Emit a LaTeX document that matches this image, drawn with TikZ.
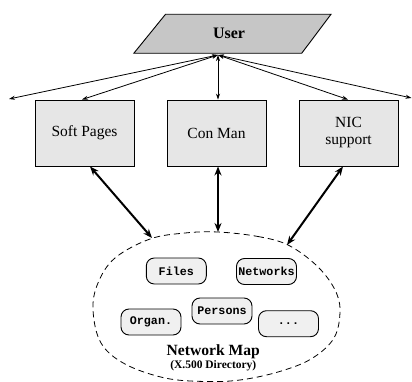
\documentclass[tikz,border=0pt]{standalone}
\usepackage{fontspec}
\setmainfont{Liberation Serif}
\setmonofont{Liberation Mono}
\usetikzlibrary{arrows.meta}
\definecolor{usergray}{HTML}{C6C6C6}
\definecolor{boxgray}{HTML}{E6E6E6}
\definecolor{itemgray}{HTML}{F0F0F0}
\tikzset{
  service/.style={draw, line width=0.9pt, fill=boxgray, minimum width=99pt, minimum height=66pt,
    align=center, font=\fontsize{15.5}{17}\selectfont, inner sep=0pt},
  entry/.style={draw, line width=0.9pt, fill=itemgray, rounded corners=8pt, minimum width=60pt,
    minimum height=26pt, inner sep=0pt, font=\fontsize{11.7}{13}\selectfont\ttfamily\bfseries},
  thinlink/.style={line width=0.8pt, {Stealth[length=6pt,width=4pt]}-{Stealth[length=6pt,width=4pt]}},
  thicklink/.style={line width=2pt, {Stealth[length=9pt,width=7pt]}-{Stealth[length=9pt,width=7pt]}},
}
\begin{document}
\begin{tikzpicture}[x=1pt,y=-1pt]
  \useasboundingbox (0,0) rectangle (412,382);

  % user parallelogram
  \draw[line width=0.9pt, fill=usergray] (165.5,14.3) -- (331,14.3) -- (301.7,53.3) -- (133.8,53.3) -- cycle;
  \node[font=\fontsize{16}{18}\selectfont\bfseries] (user) at (229,33) {User};
  \coordinate (ub) at (218,55);
  \coordinate (lf) at (9,99);
  \coordinate (rf) at (411.5,98);

  % service boxes
  \node[service] (soft) at (84.5,133) {Soft Pages};
  \node[service] (con) at (216.5,133) {Con Man};
  \node[service] (nic) at (348.5,133) {NIC\\support};

  % links from the user
  \draw[thinlink] (ub) -- (lf);
  \draw[thinlink] (ub) -- (soft.north -| 82,0);
  \draw[thinlink] (ub) -- (con.north -| ub);
  \draw[thinlink] (ub) -- (nic.north -| 348,0);
  \draw[thinlink] (ub) -- (rf);

  % network map outline
  \draw[line width=0.8pt, dash pattern=on 6pt off 4pt]
    plot[smooth cycle, tension=0.6] coordinates {
      (218,232) (258,236.5) (288,245) (316,265) (334,288) (340,310) (334,338)
      (311,359) (278,372) (240,380) (205,381.5) (165,378) (125,364) (101,343)
      (93,310) (98,283) (115,258) (150,239) (185,233)};
  \coordinate (m1) at (152,238);
  \coordinate (m2) at (218,232);
  \coordinate (m3) at (287,245);

  % links to the map
  \draw[thicklink] (soft.south -| 90,0) -- (m1);
  \draw[thicklink] (con.south -| m2) -- (m2);
  \draw[thicklink] (nic.south -| 343,0) -- (m3);

  % directory entries
  \node[entry] (files) at (176.3,271) {Files};
  \node[entry] (nets) at (266.5,271.5) {Networks};
  \node[entry] (pers) at (222,311) {Persons};
  \node[entry] (org) at (151,322) {Organ.};
  \node[entry] (more) at (288.5,323.7) {...};

  \node[font=\fontsize{15.6}{17}\selectfont\bfseries] (maplabel) at (213.3,351.5) {Network Map};
  \node[font=\fontsize{11.5}{13}\selectfont\bfseries] (mapsub) at (213.3,366) {(X.500 Directory)};
\end{tikzpicture}
\end{document}
